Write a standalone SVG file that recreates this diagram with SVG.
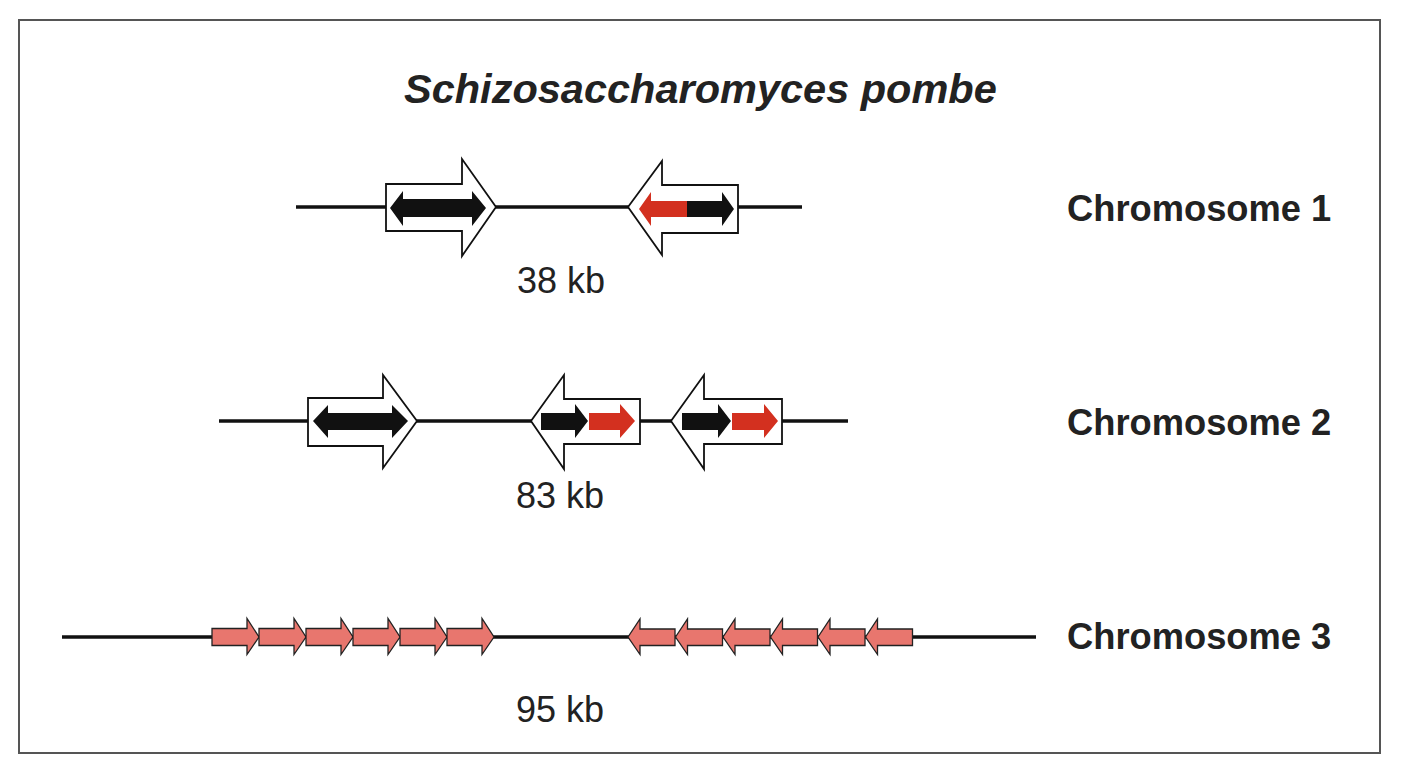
<svg xmlns="http://www.w3.org/2000/svg" width="1404" height="772" viewBox="0 0 1404 772">
<style>
.frame{fill:none;stroke:#555;stroke-width:2}
.chrom{stroke:#111;stroke-width:3.5;fill:none}
.box{fill:#fff;stroke:#111;stroke-width:1.8;stroke-linejoin:miter}
.blk{fill:#111}
.red{fill:#d3301f}
.pink{fill:#e8766e;stroke:#222;stroke-width:1.3}
.title{font-family:"Liberation Sans",Arial,sans-serif;font-weight:bold;font-style:italic;font-size:41.5px;fill:#222}
.lab{font-family:"Liberation Sans",Arial,sans-serif;font-weight:bold;font-size:36.3px;fill:#222}
.kb{font-family:"Liberation Sans",Arial,sans-serif;font-size:36px;fill:#222}
</style>
<defs>
<polygon id="fwd" class="pink" points="0,-8.5 35,-8.5 35,-18.5 47,0 35,17.5 35,8.5 0,8.5"/>
<polygon id="rev" class="pink" points="0,0 12,-18 12,-8 47,-8 47,8.5 12,8.5 12,17.5"/>
</defs>
<rect class="frame" x="19" y="20" width="1361" height="733"/>
<text class="title" x="404" y="103">Schizosaccharomyces pombe</text>

<g id="connectors">
<line class="chrom" x1="296" y1="207" x2="802" y2="207"/>
<line class="chrom" x1="219" y1="421" x2="848" y2="421"/>
<line class="chrom" x1="62" y1="637" x2="1036" y2="637"/>
</g>

<g id="chr1-gene-a">
<polygon class="box" points="386,184 462,184 462,159 496,207 462,256 462,231 386,231"/>
<polygon class="blk" points="390,208 403,191 403,199 472,199 472,191 486,208 472,226 472,217 403,217 403,226"/>
</g>
<g id="chr1-gene-b">
<polygon class="box" points="628,207 662,161 662,185 738,185 738,233 662,233 662,255"/>
<polygon class="red" points="639,209 651,192 651,201 688,201 688,217 651,217 651,226"/>
<polygon class="blk" points="687,201 722,201 722,192 734,209 722,226 722,217 687,217"/>
</g>
<g id="chr1-label">
<text class="lab" x="1067" y="221">Chromosome 1</text>
<text class="kb" x="517" y="293">38 kb</text>
</g>

<g id="chr2-gene-a">
<polygon class="box" points="308,398 383,398 383,375 417,421 383,468 383,446 308,446"/>
<polygon class="blk" points="313,421 328,405 328,413 392,413 392,405 408,421 392,438 392,430 328,430 328,438"/>
</g>
<g id="chr2-gene-b">
<polygon class="box" points="531,421 564,375 564,399 640,399 640,444 564,444 564,469"/>
<polygon class="blk" points="541,413 575,413 575,404 588,421 575,438 575,430 541,430"/>
<polygon class="red" points="589,413 620,413 620,404 635,421 620,438 620,430 589,430"/>
</g>
<g id="chr2-gene-c">
<polygon class="box" points="671,421 704,375 704,399 782,399 782,444 704,444 704,469"/>
<polygon class="blk" points="682,413 718,413 718,404 731,421 718,438 718,430 682,430"/>
<polygon class="red" points="732,413 764,413 764,404 778,421 764,438 764,430 732,430"/>
</g>
<g id="chr2-label">
<text class="lab" x="1067" y="435">Chromosome 2</text>
<text class="kb" x="516" y="508">83 kb</text>
</g>

<g id="chr3-cluster-fwd">
<use href="#fwd" x="212" y="637"/>
<use href="#fwd" x="259" y="637"/>
<use href="#fwd" x="306" y="637"/>
<use href="#fwd" x="353" y="637"/>
<use href="#fwd" x="400" y="637"/>
<use href="#fwd" x="447" y="637"/>
</g>
<g id="chr3-cluster-rev">
<use href="#rev" x="628" y="637"/>
<use href="#rev" x="675.5" y="637"/>
<use href="#rev" x="723" y="637"/>
<use href="#rev" x="770.5" y="637"/>
<use href="#rev" x="818" y="637"/>
<use href="#rev" x="865.5" y="637"/>
</g>
<g id="chr3-label">
<text class="lab" x="1067" y="649">Chromosome 3</text>
<text class="kb" x="516" y="722">95 kb</text>
</g>
</svg>
